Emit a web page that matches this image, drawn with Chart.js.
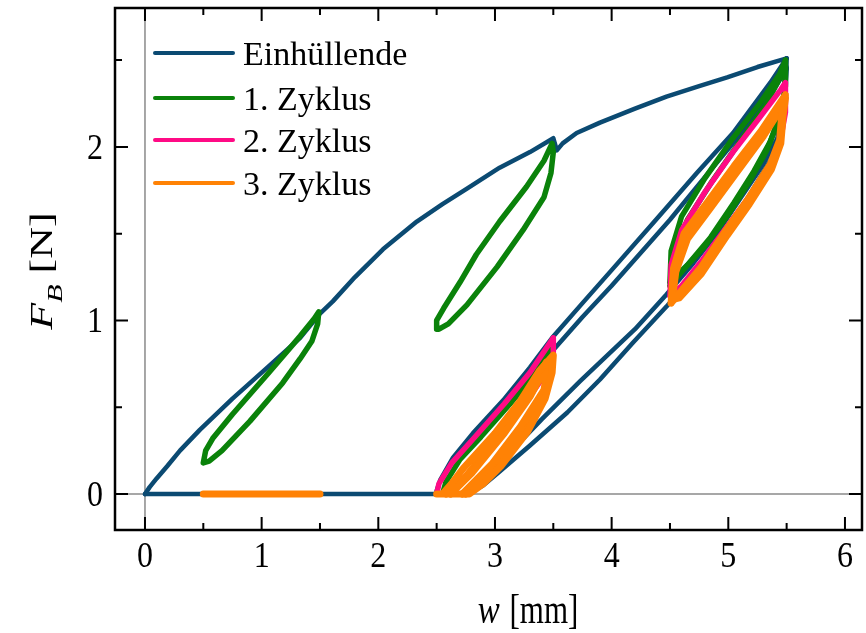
<!DOCTYPE html>
<html>
<head>
<meta charset="utf-8">
<script src="https://cdn.jsdelivr.net/npm/chart.js@4.4.1/dist/chart.umd.min.js"></script>
<style>
  html, body { margin: 0; padding: 0; background: #fff; }
  #wrap { width: 866px; height: 633px; }
</style>
</head>
<body>
<div id="wrap"><canvas id="chart" width="866" height="633"></canvas></div>
<script>
// --- axes ---
const X_MIN = -0.257, X_MAX = 6.146;
const Y_MIN = -0.207, Y_MAX = 2.80;
const xTicks = [0, 1, 2, 3, 4, 5, 6];
const yTicks = [0, 1, 2];
const xMinorTicks = [0.5, 1.5, 2.5, 3.5, 4.5, 5.5];
const yMinorTicks = [0.5, 1.5, 2.5];

// --- Einhüllende (w [mm], F_B [N]) ---
const envLoading = [[0,0],[0.04,0.04],[0.1,0.09],[0.19,0.16],[0.3,0.25],[0.47,0.37],[0.75,0.55],[1.05,0.73],
  [1.33,0.9],[1.5,1.04],[1.61,1.11],[1.8,1.25],[2.04,1.41],[2.33,1.57],[2.55,1.67],[2.76,1.76],[3.04,1.88],
  [3.3,1.97],[3.5,2.05],[3.53,1.98],[3.58,2.02],[3.7,2.08],[3.9,2.14],[4.2,2.22],[4.47,2.29],[4.75,2.35],
  [4.99,2.4],[5.25,2.46],[5.5,2.51]];
const envUnloadA = [[5.5,2.51],[5.49,2.3],[5.45,2.1],[5.36,1.92],[5.18,1.72],[4.98,1.53],[4.76,1.31],[4.47,1.08],
  [4.18,0.87],[3.9,0.66],[3.62,0.47],[3.3,0.28],[3.04,0.13],[2.9,0.05],[2.77,0],[2.5,0],[0,0]];
const envUnloadB = [[5.5,2.46],[5.48,2.25],[5.42,2.05],[5.3,1.9],[5.1,1.7],[4.9,1.5],[4.7,1.33],[4.47,1.15],
  [4.2,0.95],[3.73,0.65],[3.4,0.43],[3.1,0.22],[2.85,0.04],[2.78,0]];
const envReloadA = [[2.5,0],[2.5,0.02],[2.53,0.08],[2.64,0.21],[2.81,0.35],[3.07,0.54],[3.3,0.73],[3.49,0.9],
  [3.75,1.1],[4.0,1.29],[4.38,1.58],[4.73,1.85],[5.04,2.08],[5.36,2.37],[5.5,2.51]];
const envReloadB = [[3.5,0.83],[3.75,1.02],[4.0,1.2],[4.5,1.58],[4.73,1.77],[5.1,2.07],[5.4,2.34],[5.5,2.45]];

// --- 1. Zyklus ---
const c1Flat = [[0.5,0],[1.5,0]];
const c1LoopA = [[0.5,0.18],[0.52,0.25],[0.58,0.32],[0.75,0.46],[1.05,0.69],[1.33,0.91],[1.45,1.01],[1.49,1.05],
  [1.48,0.98],[1.43,0.88],[1.33,0.78],[1.18,0.64],[0.9,0.42],[0.66,0.25],[0.55,0.19],[0.5,0.18]];
const c1LoopB = [[2.5,0.95],[2.5,1.0],[2.56,1.07],[2.7,1.22],[2.84,1.38],[3.04,1.57],[3.27,1.77],[3.42,1.92],
  [3.49,2.02],[3.5,1.97],[3.48,1.85],[3.42,1.71],[3.24,1.52],[3.02,1.31],[2.76,1.09],[2.6,0.98],[2.52,0.95],[2.5,0.95]];
const c1LoopC = [[2.55,0],[2.58,0.07],[2.7,0.2],[2.88,0.33],[3.13,0.52],[3.34,0.69],[3.5,0.86],[3.49,0.72],
  [3.43,0.57],[3.3,0.4],[3.1,0.22],[2.88,0.06],[2.78,0],[2.55,0]];
const c1LoopD = [[4.5,1.22],[4.51,1.4],[4.6,1.6],[4.8,1.82],[5.04,2.05],[5.27,2.25],[5.44,2.42],[5.49,2.5],
  [5.49,2.35],[5.45,2.2],[5.36,2.03],[5.22,1.86],[5.05,1.68],[4.85,1.48],[4.65,1.32],[4.5,1.22]];
const c1LoopE = [[4.5,1.2],[4.53,1.38],[4.65,1.58],[4.86,1.8],[5.1,2.03],[5.32,2.24],[5.49,2.46],[5.48,2.3],
  [5.43,2.15],[5.33,1.98],[5.18,1.8],[5.0,1.61],[4.8,1.43],[4.6,1.28],[4.5,1.2]];

// --- 2. Zyklus ---
const c2Flat = [[0.5,0],[1.5,0]];
const c2LoopA = [[2.5,0],[2.52,0.06],[2.63,0.18],[2.83,0.33],[3.08,0.52],[3.3,0.7],[3.5,0.9],[3.5,0.78],
  [3.46,0.64],[3.36,0.49],[3.2,0.34],[3.0,0.18],[2.8,0.03],[2.72,0],[2.5,0]];
const c2LoopB = [[2.6,0],[2.68,0.05],[2.9,0.22],[3.15,0.42],[3.41,0.67],[3.48,0.78],[3.44,0.6],[3.3,0.42],
  [3.1,0.25],[2.9,0.1],[2.75,0]];
const c2LoopC = [[4.5,1.14],[4.51,1.32],[4.6,1.52],[4.8,1.74],[5.04,1.97],[5.27,2.17],[5.45,2.33],[5.49,2.37],
  [5.49,2.2],[5.45,2.05],[5.36,1.9],[5.2,1.73],[5.0,1.55],[4.78,1.35],[4.6,1.2],[4.5,1.14]];

// --- 3. Zyklus ---
const c3Flat = [[0.5,0],[1.5,0]];
const c3LoopA = [[2.5,0],[2.55,0],[2.64,0.07],[2.73,0.15],[3.0,0.35],[3.22,0.54],[3.38,0.71],[3.5,0.8],
  [3.49,0.7],[3.43,0.55],[3.28,0.36],[3.05,0.16],[2.9,0.06],[2.78,0],[2.5,0]];
const c3LoopB = [[2.62,0],[2.8,0.12],[3.08,0.35],[3.3,0.56],[3.46,0.76],[3.42,0.6],[3.22,0.39],[2.97,0.17],[2.72,0]];
const c3LoopC = [[2.58,0],[2.75,0.1],[3.04,0.35],[3.26,0.55],[3.44,0.76],[3.46,0.66],[3.36,0.48],[3.15,0.28],
  [2.9,0.08],[2.75,0]];
const c3LoopD = [[4.51,1.1],[4.53,1.3],[4.62,1.5],[4.82,1.68],[5.05,1.89],[5.28,2.09],[5.46,2.27],[5.49,2.3],
  [5.46,2.2],[5.44,2.04],[5.36,1.9],[5.17,1.7],[4.98,1.52],[4.76,1.3],[4.57,1.15],[4.51,1.1]];
const c3LoopE = [[4.52,1.12],[4.55,1.28],[4.65,1.47],[4.85,1.65],[5.08,1.86],[5.3,2.06],[5.47,2.24],[5.49,2.28],
  [5.47,2.18],[5.45,2.02],[5.37,1.87],[5.18,1.67],[4.99,1.49],[4.77,1.27],[4.58,1.13],[4.52,1.12]];

const seriesLabels = ['Einhüllende', '1. Zyklus', '2. Zyklus', '3. Zyklus'];
const seriesColors = ['#0b4a72', '#0a820a', '#ff0a85', '#ff8205'];
const seriesWidths = [4.5, 5.5, 5.5, 7];
const seriesPaths = [
  [envLoading, envUnloadA, envUnloadB, envReloadA, envReloadB],
  [c1Flat, c1LoopA, c1LoopB, c1LoopC, c1LoopD, c1LoopE],
  [c2Flat, c2LoopA, c2LoopB, c2LoopC],
  [c3Flat, c3LoopA, c3LoopB, c3LoopC, c3LoopD, c3LoopE]
];

const FONT = "'Liberation Serif', 'Times New Roman', serif";

// each path becomes its own dataset; later series are drawn on top
const datasets = [];
seriesPaths.forEach((paths, s) => {
  paths.forEach(p => {
    datasets.push({
      label: seriesLabels[s],
      data: p.map(([x, y]) => ({ x, y })),
      borderColor: seriesColors[s],
      backgroundColor: seriesColors[s],
      borderWidth: seriesWidths[s],
      showLine: true,
      pointRadius: 0,
      pointHoverRadius: 0,
      tension: 0,
      borderJoinStyle: 'round',
      borderCapStyle: 'round',
      order: 4 - s
    });
  });
});

// text with a separate vertical stretch
function stretchedText(ctx, text, x, y, size, stretch, align, italic) {
  ctx.save();
  ctx.translate(x, y);
  ctx.scale(1, stretch);
  ctx.font = (italic ? 'italic ' : '') + size + 'px ' + FONT;
  ctx.textAlign = align;
  ctx.textBaseline = 'alphabetic';
  ctx.fillText(text, 0, 0);
  ctx.restore();
}

const framePlugin = {
  id: 'frame',
  beforeDatasetsDraw(chart) {
    const { ctx, chartArea: a, scales: { x, y } } = chart;
    const x0 = x.getPixelForValue(0), y0 = y.getPixelForValue(0);
    ctx.save();
    ctx.strokeStyle = '#8a8a8a';
    ctx.lineWidth = 1.5;
    ctx.beginPath();
    ctx.moveTo(x0, a.top); ctx.lineTo(x0, a.bottom);
    ctx.moveTo(a.left, y0); ctx.lineTo(a.right, y0);
    ctx.stroke();
    ctx.restore();
  },
  afterDatasetsDraw(chart) {
    const { ctx, chartArea: a, scales: { x, y } } = chart;
    ctx.save();
    ctx.strokeStyle = '#000';
    ctx.lineWidth = 2;
    ctx.beginPath();
    const tickX = (v, len) => {
      const px = x.getPixelForValue(v);
      ctx.moveTo(px, a.bottom); ctx.lineTo(px, a.bottom - len);
      ctx.moveTo(px, a.top); ctx.lineTo(px, a.top + len);
    };
    const tickY = (v, len) => {
      const py = y.getPixelForValue(v);
      ctx.moveTo(a.left, py); ctx.lineTo(a.left + len, py);
      ctx.moveTo(a.right, py); ctx.lineTo(a.right - len, py);
    };
    xTicks.forEach(v => tickX(v, 13));
    xMinorTicks.forEach(v => tickX(v, 7));
    yTicks.forEach(v => tickY(v, 13));
    yMinorTicks.forEach(v => tickY(v, 7));
    ctx.stroke();
    ctx.lineWidth = 2.5;
    ctx.strokeRect(a.left, a.top, a.right - a.left, a.bottom - a.top);
    ctx.restore();

    // tick labels
    ctx.save();
    ctx.fillStyle = '#000';
    xTicks.forEach(v => stretchedText(ctx, String(v), x.getPixelForValue(v), 567, 32, 1.15, 'center'));
    yTicks.forEach(v => stretchedText(ctx, String(v), 103, y.getPixelForValue(v) + 12, 32, 1.15, 'right'));
    ctx.restore();
  },
  afterDraw(chart) {
    const { ctx } = chart;
    ctx.save();
    ctx.fillStyle = '#000';
    // legend
    const rowsLine = [53, 98, 140, 183];
    seriesLabels.forEach((lbl, i) => {
      ctx.strokeStyle = seriesColors[i];
      ctx.lineWidth = 4;
      ctx.lineCap = 'round';
      ctx.beginPath();
      ctx.moveTo(155, rowsLine[i]); ctx.lineTo(233, rowsLine[i]);
      ctx.stroke();
      stretchedText(ctx, lbl, 243, rowsLine[i] + 12, 34, 1.0, 'left');
    });

    // x title: w [mm]
    ctx.font = 'italic 33px ' + FONT;
    const wW = ctx.measureText('w').width;
    ctx.font = '31px ' + FONT;
    const restW = ctx.measureText(' [mm]').width;
    const sx = 527 - (wW + restW) / 2;
    stretchedText(ctx, 'w', sx, 623, 33, 1.3, 'left', true);
    stretchedText(ctx, ' [mm]', sx + wW + 2, 623, 31, 1.35, 'left');

    // y title: F_B [N], rotated
    ctx.translate(52, 271);
    ctx.rotate(-Math.PI / 2);
    ctx.font = 'italic 44px ' + FONT;
    const fW = ctx.measureText('F').width;
    ctx.font = 'italic 30px ' + FONT;
    const bW = ctx.measureText('B').width;
    ctx.font = '44px ' + FONT;
    const nW = ctx.measureText(' [N]').width;
    const tx = -(fW + bW + nW) / 2;
    stretchedText(ctx, 'F', tx, 0, 44, 0.72, 'left', true);
    stretchedText(ctx, 'B', tx + fW, 10, 30, 0.72, 'left', true);
    stretchedText(ctx, ' [N]', tx + fW + bW, 0, 44, 0.72, 'left');
    ctx.restore();
  }
};

new Chart(document.getElementById('chart'), {
  type: 'scatter',
  data: { datasets },
  options: {
    responsive: false,
    animation: false,
    devicePixelRatio: 1,
    layout: { padding: { left: 0, right: 4, top: 8, bottom: 0 } },
    plugins: { legend: { display: false }, tooltip: { enabled: false } },
    scales: {
      x: {
        type: 'linear', min: X_MIN, max: X_MAX,
        grid: { display: false }, border: { display: false },
        afterBuildTicks: s => { s.ticks = xTicks.map(v => ({ value: v })); },
        afterFit: s => { s.height = 103; s.paddingLeft = 0; s.paddingRight = 0; },
        ticks: { display: false }
      },
      y: {
        type: 'linear', min: Y_MIN, max: Y_MAX,
        grid: { display: false }, border: { display: false },
        afterBuildTicks: s => { s.ticks = yTicks.map(v => ({ value: v })); },
        afterFit: s => { s.width = 115; s.paddingTop = 0; s.paddingBottom = 0; },
        ticks: { display: false }
      }
    }
  },
  plugins: [framePlugin]
});
</script>
</body>
</html>
